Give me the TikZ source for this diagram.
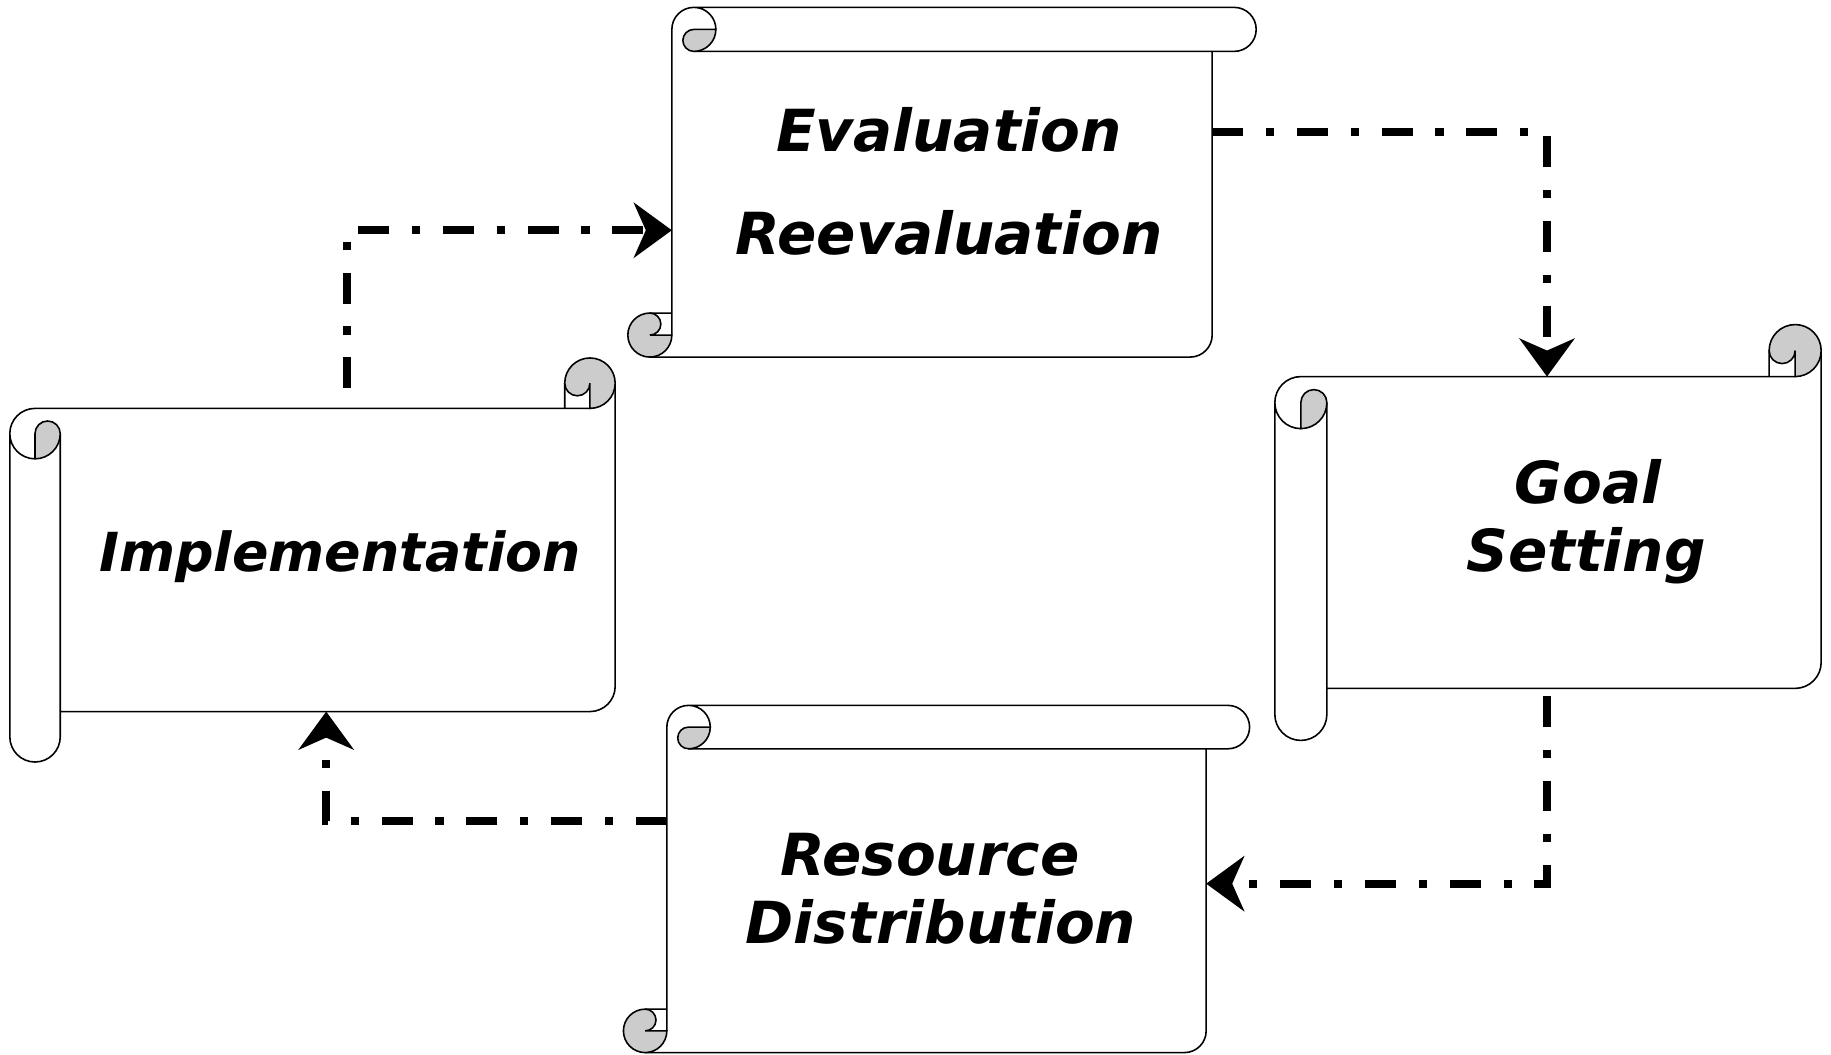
\documentclass[tikz,border=0pt]{standalone}
\usepackage{fontspec}
\setmainfont{DejaVu Sans}
\usetikzlibrary{calc,arrows.meta}

% scroll with its roll along the top and a curl at the bottom left
\newcommand{\topscroll}[2]{%
  \draw[scrollline] let \p1=(#1.north west), \p2=(#1.south east) in
    (\x1,\y1+#2) arc(180:90:#2) -- (\x2+#2,\y1+2*#2) arc(90:-90:#2) -- (\x1+#2,\y1)
    (\x1+#2,\y1+2*#2) arc(90:0:#2)
    (\x1,\y1+#2) -- (\x1,\y2+#2)
    (\x2,\y1) -- (\x2,\y2+#2) arc(0:-90:#2) -- (\x1-#2,\y2)
    (\x1-#2,\y2+2*#2) -- (\x1,\y2+2*#2);
  \filldraw[curl] let \p1=(#1.north west) in
    (\x1+#2,\y1+#2) -- (\x1+2*#2,\y1+#2) arc(0:-90:#2) arc(-90:-270:#2/2) -- cycle;
  \filldraw[curl] let \p1=(#1.north west), \p2=(#1.south east) in
    (\x1-#2,\y2+2*#2) arc(90:360:#2) -- (\x1-#2,\y2+#2) arc(-90:90:#2/2) -- cycle;
}
% scroll with its roll down the left side and a curl at the top right
\newcommand{\sidescroll}[2]{%
  \draw[scrollline] let \p1=(#1.north west), \p2=(#1.south east) in
    (\x1-#2,\y1) arc(90:270:#2)
    (\x1-2*#2,\y1-#2) -- (\x1-2*#2,\y2-#2) arc(180:360:#2) -- (\x1,\y1-#2)
    (\x1-#2,\y1) -- (\x2-#2,\y1)
    (\x1,\y2) -- (\x2-#2,\y2) arc(-90:0:#2) -- (\x2,\y1+#2)
    (\x2-2*#2,\y1+#2) -- (\x2-2*#2,\y1);
  \filldraw[curl] let \p1=(#1.north west) in
    (\x1-#2,\y1-2*#2) -- (\x1-#2,\y1-#2) arc(180:0:#2/2) arc(0:-90:#2) -- cycle;
  \filldraw[curl] let \p1=(#1.north west), \p2=(#1.south east) in
    (\x2-2*#2,\y1+#2) arc(180:-90:#2) -- (\x2-#2,\y1+#2) arc(0:-180:#2/2) -- cycle;
}

\begin{document}
\begin{tikzpicture}[
  x=0.01cm, y=0.01cm,
  scrollline/.style={draw=black, line width=0.45pt},
  curl/.style={draw=black, line width=0.45pt, fill=black!20},
  body/.style={rectangle, draw=none, inner sep=0pt, outer sep=0pt},
  scrolltext/.style={font=\fontsize{16.5}{19}\selectfont\bfseries\itshape, anchor=base, inner sep=0pt},
  flow/.style={line width=2.2pt, dash pattern=on 8.8pt off 6.5pt on 2.3pt off 6.5pt,
    -{Stealth[length=3.8mm, width=5.5mm, inset=1.2mm]}}
]
  \useasboundingbox (0,0) rectangle (1831,1055);

  % scroll bodies
  \node[body, minimum width=5.40cm, minimum height=3.055cm] (eval) at (942,850.75) {};
  \node[body, minimum width=4.94cm, minimum height=3.116cm] (goal) at (1574,522.5) {};
  \node[body, minimum width=5.39cm, minimum height=3.036cm] (res) at (936.5,154.3) {};
  \node[body, minimum width=5.546cm, minimum height=3.03cm] (impl) at (337.7,495) {};

  \topscroll{eval}{0.22cm}
  \topscroll{res}{0.217cm}
  \sidescroll{impl}{0.252cm}
  \sidescroll{goal}{0.26cm}

  % texts
  \node[scrolltext] (evaltop) at (949,903) {Evaluation};
  \node[scrolltext] (evalbot) at (949,800) {Reevaluation};
  \node[scrolltext] (goaltop) at (1588,551) {Goal};
  \node[scrolltext] (goalbot) at (1586,483) {Setting};
  \node[scrolltext] (restop) at (930,179) {Resource};
  \node[scrolltext] (resbot) at (941,111.5) {Distribution};
  \node[scrolltext, font=\fontsize{15.3}{18}\selectfont\bfseries\itshape] (impltext) at (340,483) {Implementation};

  % cycle
  \draw[flow, dash phase=18.4pt] ([xshift=0.09cm]impl.north) |- ([yshift=-0.26cm]eval.west);
  \draw[flow] ([yshift=0.72cm]eval.east) -| ([xshift=-0.27cm]goal.north);
  \draw[flow, dash phase=22pt] ([xshift=-0.27cm]goal.south) |- ([yshift=0.17cm]res.east);
  \draw[flow] ([yshift=0.8cm]res.west) -| ([xshift=-0.115cm]impl.south);

\end{tikzpicture}
\end{document}
